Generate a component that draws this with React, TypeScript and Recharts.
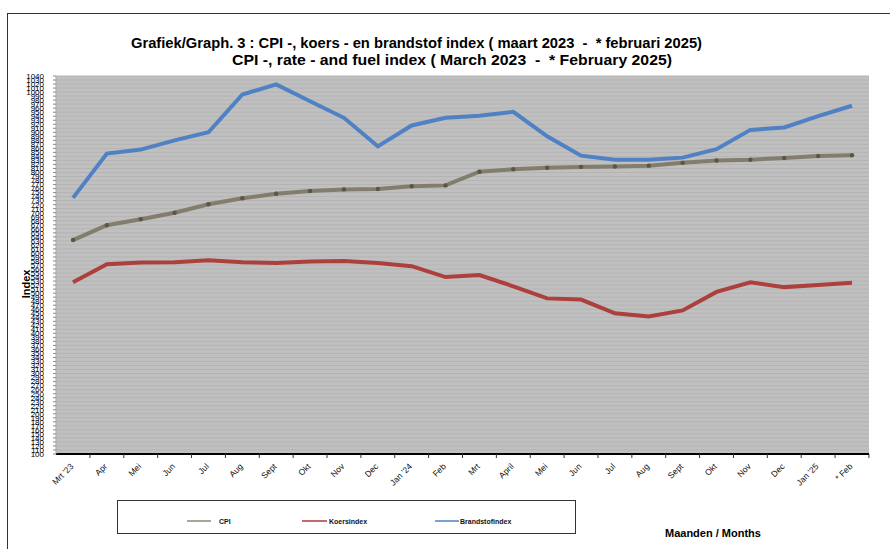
import React from "react";
import { LineChart, Line, XAxis, YAxis, CartesianGrid } from "recharts";

// months, maart 2023 - februari 2025
const months = [
  "Mrt '23", "Apr", "Mei", "Jun", "Jul", "Aug", "Sept", "Okt", "Nov", "Dec",
  "Jan '24", "Feb", "Mrt", "April", "Mei", "Jun", "Jul", "Aug", "Sept", "Okt",
  "Nov", "Dec", "Jan '25", "* Feb",
];

const cpi = [
  632, 669, 684, 700, 721, 736, 747, 754, 758, 759, 766, 768,
  802, 808, 812, 814, 815, 817, 824, 830, 832, 836, 841, 843,
];

const koersindex = [
  527, 572, 576, 577, 582, 577, 575, 579, 580, 575, 567, 540,
  545, 517, 487, 484, 450, 442, 457, 503, 527, 515, 520, 526,
];

const brandstofindex = [
  737, 847, 857, 880, 900, 994, 1019, 977, 936, 865, 917, 936,
  941, 951, 890, 842, 832, 832, 837, 858, 906, 912, 940, 966,
];

// y axis labels every 10, 100 .. 1040
const yTicks = Array.from({ length: 95 }, (_, i) => 100 + i * 10);

const data = months.map((m, i) => ({
  month: m,
  cpi: cpi[i],
  koers: koersindex[i],
  brandstof: brandstofindex[i],
}));

const W = 890;
const H = 549;
const margin = { top: 76, right: 21, left: 0, bottom: 55 };
const Y_W = 56;
const PAD = 17;
const plotW = W - margin.left - margin.right - Y_W;
const step = (plotW - 2 * PAD) / (months.length - 1);

const font = "'Liberation Sans', Arial, sans-serif";

const XTick = (props: any) => {
  const { x, y, payload } = props;
  return (
    <g>
      <line x1={x + step / 2} x2={x + step / 2} y1={y - 12} y2={y - 8} stroke="#333" strokeWidth={1} />
      <text
        transform={`translate(${x + 1},${y + 1}) rotate(-45)`}
        textAnchor="end"
        fontSize={8.5}
        fontFamily={font}
        fill="#111"
      >
        {payload.value}
      </text>
    </g>
  );
};

const IndexLabel = (props: any) => {
  const vb = props.viewBox;
  const cx = 26;
  const cy = vb.y + vb.height / 2 + 19;
  return (
    <text
      transform={`translate(${cx},${cy}) rotate(-90)`}
      textAnchor="middle"
      dominantBaseline="central"
      fontSize={11}
      fontWeight="bold"
      fontFamily={font}
      fill="#000"
    >
      Index
    </text>
  );
};

const legendItems = [
  { name: "CPI", color: "#8c8878", line: [187, 211], text: 219 },
  { name: "Koersindex", color: "#b03a37", line: [302, 327], text: 329 },
  { name: "Brandstofindex", color: "#4f81c4", line: [435, 459], text: 460 },
];

export default function App() {
  return (
    <div
      style={{
        position: "absolute",
        left: 0,
        top: 0,
        width: W,
        height: H,
        overflow: "hidden",
        background: "#fff",
        fontFamily: font,
      }}
    >
      {/* outer frame */}
      <div
        style={{
          position: "absolute",
          left: 7,
          top: 13,
          width: 920,
          height: 600,
          border: "1.5px solid #333",
        }}
      />

      <div style={{ position: "absolute", left: 0, top: 0 }}>
        <LineChart width={W} height={H} data={data} margin={margin}>
          <CartesianGrid
            vertical={false}
            horizontal={true}
            fill="#c0c0c0"
            fillOpacity={1}
            stroke="#b4b4b4"
            strokeWidth={1}
          />
          <XAxis
            dataKey="month"
            interval={0}
            padding={{ left: PAD, right: PAD }}
            tick={<XTick />}
            tickLine={false}
            tickSize={4}
            tickMargin={8}
            height={40}
            axisLine={{ stroke: "#000", strokeWidth: 2 }}
          />
          <XAxis
            xAxisId="top"
            dataKey="month"
            orientation="top"
            height={0}
            tick={false}
            tickLine={false}
            axisLine={{ stroke: "#3a3a3a", strokeWidth: 1.5 }}
          />
          <YAxis
            domain={[100, 1040]}
            ticks={yTicks}
            interval={0}
            width={Y_W}
            tickSize={3}
            tickMargin={9}
            tick={{ fontSize: 8, fill: "#000", fontFamily: font }}
            tickLine={{ stroke: "#8a8a8a" }}
            axisLine={{ stroke: "#a8a8a8" }}
            allowDataOverflow
            label={<IndexLabel />}
          />
          <YAxis
            yAxisId="right"
            orientation="right"
            width={0}
            tick={false}
            tickLine={false}
            axisLine={{ stroke: "#4a4a4a", strokeWidth: 1.5 }}
          />
          <Line
            type="linear"
            dataKey="brandstof"
            stroke="#4f81c4"
            strokeWidth={4}
            dot={false}
            isAnimationActive={false}
          />
          <Line
            type="linear"
            dataKey="cpi"
            stroke="#827d6d"
            strokeWidth={4}
            dot={{ r: 2.2, fill: "#5a5644", stroke: "none" }}
            isAnimationActive={false}
          />
          <Line
            type="linear"
            dataKey="koers"
            stroke="#ab403d"
            strokeWidth={4}
            dot={false}
            isAnimationActive={false}
          />
        </LineChart>
      </div>

      {/* legend box */}
      <div
        style={{
          position: "absolute",
          left: 117,
          top: 500,
          width: 457,
          height: 32,
          border: "1.5px solid #333",
        }}
      />
      <svg style={{ position: "absolute", left: 0, top: 0 }} width={W} height={H} pointerEvents="none">
        <text
          x={131}
          y={48}
          fontSize={14}
          fontWeight="bold"
          fontFamily={font}
          textLength={571}
          lengthAdjust="spacingAndGlyphs"
          xmlSpace="preserve"
          fill="#000"
        >
          {"Grafiek/Graph. 3 : CPI -, koers - en brandstof index ( maart 2023  -  * februari 2025)"}
        </text>
        <text
          x={232}
          y={65}
          fontSize={14}
          fontWeight="bold"
          fontFamily={font}
          textLength={440}
          lengthAdjust="spacingAndGlyphs"
          xmlSpace="preserve"
          fill="#000"
        >
          {"CPI -, rate - and fuel index ( March 2023  -  * February 2025)"}
        </text>
        {legendItems.map((it) => (
          <g key={it.name}>
            <line x1={it.line[0]} x2={it.line[1]} y1={521} y2={521} stroke={it.color} strokeWidth={1.5} />
            <text x={it.text} y={523.5} fontSize={7} fontWeight="bold" fontFamily={font} fill="#111">
              {it.name}
            </text>
          </g>
        ))}
        <text x={665} y={536.5} fontSize={11} fontWeight="bold" fontFamily={font} fill="#000">
          Maanden / Months
        </text>
      </svg>
    </div>
  );
}
